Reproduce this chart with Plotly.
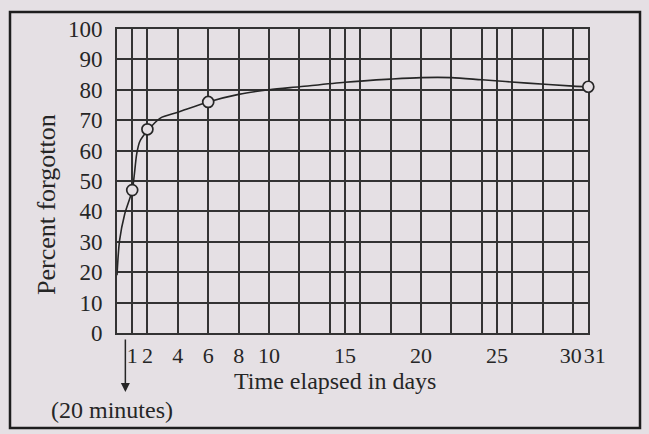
import plotly.graph_objects as go

# ---- data ----
curve_days = [0, 0.17, 0.5, 1, 1.3, 1.5, 2, 2.85, 4, 6, 8, 10, 12, 15, 18, 20, 22, 24, 27, 30, 31]
curve_pct = [19, 30.5, 39, 47, 59, 63, 66.5, 70.7, 72.6, 76, 78.5, 80, 81, 82.5, 83.5, 84, 84, 83.3, 82.2, 81.2, 81]

point_days = [1, 2, 6, 31]
point_pct = [47, 67, 76, 81]

x_tick_days = [1, 2, 4, 6, 8, 10, 15, 20, 25, 30, 31]
x_tick_labels = ["1", "2", "4", "6", "8", "10", "15", "20", "25", "30", "31"]
grid_days = [1, 2, 4, 6, 8, 10, 12, 14, 15, 16, 18, 20, 22, 24, 25, 26, 28, 30]
y_ticks = [0, 10, 20, 30, 40, 50, 60, 70, 80, 90, 100]
y_tick_labels = [str(v) for v in y_ticks]

x_title = "Time elapsed in days"
y_title = "Percent forgotton"
note_text = "(20 minutes)"

# ---- styling / layout ----
W, H = 649, 434
ML, MT, MB, MR = 117, 29, 101, 40
plot_w = W - ML - MR
plot_h = H - MT - MB
inner_w = 471.3          # width of the gridded area
dx = inner_w / plot_w
x_max = 31
x2_max = x_max / dx

BG = "#e5e0e4"
INK = "#262626"
GRID = "#333333"
FONT = "Liberation Serif"


def px(x):
    return (x - ML) / plot_w


def py(y):
    return (H - MB - y) / plot_h


# small nudges so the adjacent "30" and "31" labels read as "3031"
label_nudge = {30: -0.15, 31: 0.42}
label_pos = [d + label_nudge.get(d, 0) for d in x_tick_days]

fig = go.Figure()

fig.add_trace(go.Scatter(
    x=curve_days, y=curve_pct, mode="lines",
    line=dict(color=INK, width=1.6, shape="spline", smoothing=0.8),
    xaxis="x", yaxis="y", hoverinfo="skip", showlegend=False,
))

fig.add_trace(go.Scatter(
    x=point_days, y=point_pct, mode="markers",
    marker=dict(symbol="circle", size=11, color=BG, line=dict(color=INK, width=1.7)),
    xaxis="x2", yaxis="y2", cliponaxis=False, showlegend=False,
))

fig.update_layout(
    width=W, height=H,
    margin=dict(l=ML, r=MR, t=MT, b=MB, pad=0),
    paper_bgcolor=BG, plot_bgcolor="rgba(0,0,0,0)",
    font=dict(family=FONT, color=INK, size=23),
    showlegend=False,
    xaxis=dict(
        domain=[0, dx], range=[0, x_max], anchor="y",
        tickmode="array", tickvals=grid_days, showticklabels=False,
        showgrid=True, gridcolor=GRID, gridwidth=1.8,
        zeroline=False, showline=True, linecolor=GRID, linewidth=2, mirror=True,
        ticks="", fixedrange=True,
    ),
    yaxis=dict(
        domain=[0, 1], range=[0, 100], anchor="x",
        tickmode="array", tickvals=y_ticks, ticktext=y_tick_labels,
        showgrid=True, gridcolor=GRID, gridwidth=1.8,
        zeroline=False, showline=True, linecolor=GRID, linewidth=2, mirror=True,
        ticks="outside", ticklen=8, tickcolor="rgba(0,0,0,0)",
        tickfont=dict(family=FONT, size=23, color=INK),
    ),
    xaxis2=dict(
        domain=[0, 1], range=[0, x2_max], anchor="y2",
        tickmode="array", tickvals=label_pos, ticktext=x_tick_labels,
        showgrid=False, zeroline=False, showline=False,
        ticks="outside", ticklen=3, tickcolor="rgba(0,0,0,0)",
        tickfont=dict(family=FONT, size=22, color=INK), tickangle=0,
    ),
    yaxis2=dict(
        domain=[0, 1], range=[0, 100], anchor="x2", visible=False,
    ),
)

annotations = [
    dict(text=x_title, x=px(335), y=py(381), xref="paper", yref="paper",
         xanchor="center", yanchor="middle", showarrow=False,
         font=dict(family=FONT, size=24, color=INK)),
    dict(text=note_text, x=px(112), y=py(410), xref="paper", yref="paper",
         xanchor="center", yanchor="middle", showarrow=False,
         font=dict(family=FONT, size=24, color=INK)),
    dict(text=y_title, x=px(46), y=py(205), xref="paper", yref="paper",
         xanchor="center", yanchor="middle", showarrow=False, textangle=-90,
         font=dict(family=FONT, size=26, color=INK)),
    dict(text="", x=0.55, y=py(392), xref="x", yref="paper",
         showarrow=True, ax=0, ay=-54, axref="pixel", ayref="pixel",
         arrowhead=2, arrowsize=1.2, arrowwidth=1.5, arrowcolor=INK),
]
fig.update_layout(annotations=annotations)

fig.add_shape(type="rect", xref="paper", yref="paper",
              x0=px(10), x1=px(640), y0=py(428), y1=py(12),
              line=dict(color="#1e1e1e", width=2.5), fillcolor="rgba(0,0,0,0)",
              layer="below")

# remove the browser's default page margin so the figure sits at (0, 0)
fig.write_html("out.html", config={"displayModeBar": False},
               post_script="document.body.style.margin='0';")
